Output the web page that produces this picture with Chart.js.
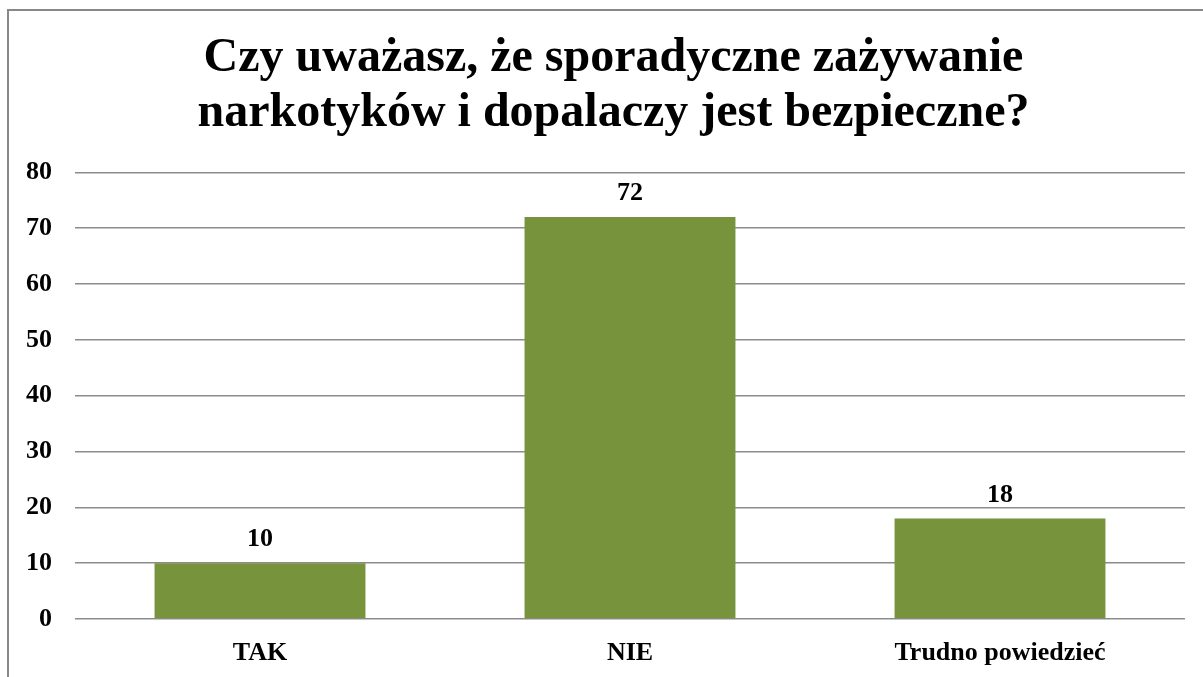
<!DOCTYPE html>
<html>
<head>
<meta charset="utf-8">
<script src="https://cdn.jsdelivr.net/npm/chart.js@4/dist/chart.umd.min.js"></script>
<style>
  html, body { margin: 0; padding: 0; background: #fff; overflow: hidden; }
  #frame { position: absolute; left: 7px; top: 9px; width: 1400px; height: 900px; border: 2px solid #888; box-sizing: border-box; }
  #wrap { position: absolute; left: 0; top: 0; width: 1203px; height: 677px; }
</style>
</head>
<body>
<div id="frame"></div>
<div id="wrap"><canvas id="c" width="1203" height="677"></canvas></div>
<script>
const titleLines = ["Czy uważasz, że sporadyczne zażywanie", "narkotyków i dopalaczy jest bezpieczne?"];
const categories = ["TAK", "NIE", "Trudno powiedzieć"];
const values = [10, 72, 18];
const yTicks = [0, 10, 20, 30, 40, 50, 60, 70, 80];

const FONT = "'Liberation Serif', 'Times New Roman', serif";

const valueLabels = {
  id: 'valueLabels',
  afterDatasetsDraw(chart) {
    const ctx = chart.ctx;
    const meta = chart.getDatasetMeta(0);
    ctx.save();
    ctx.font = "bold 26px " + FONT;
    ctx.fillStyle = "#000";
    ctx.textAlign = "center";
    ctx.textBaseline = "alphabetic";
    meta.data.forEach((bar, i) => {
      ctx.fillText(String(values[i]), bar.x, bar.y - 17);
    });
    ctx.restore();
  }
};

const titleShift = {
  id: 'titleShift',
  afterLayout(chart) {
    if (chart.titleBlock) { chart.titleBlock.left = 42; }
  }
};

new Chart(document.getElementById('c'), {
  type: 'bar',
  data: {
    labels: categories,
    datasets: [{
      data: values,
      backgroundColor: '#77933C',
      borderWidth: 0,
      barPercentage: 0.57,
      categoryPercentage: 1.0
    }]
  },
  options: {
    responsive: false,
    animation: false,
    layout: { padding: { left: 0, right: 18, top: 0, bottom: 0 } },
    plugins: {
      legend: { display: false },
      tooltip: { enabled: false },
      title: {
        display: true,
        text: titleLines,
        color: '#000',
        font: { family: FONT, size: 48, weight: 'bold', lineHeight: 1.15 },
        padding: { top: 31, bottom: 31 }
      }
    },
    scales: {
      x: {
        grid: { display: false, drawTicks: false },
        border: { display: false },
        ticks: {
          color: '#000',
          font: { family: FONT, size: 26, weight: 'bold' },
          padding: 19,
          maxRotation: 0
        },
        afterFit(scale) { scale.height = 58; }
      },
      y: {
        min: 0,
        max: 80,
        afterBuildTicks(scale) { scale.ticks = yTicks.map(v => ({ value: v })); },
        grid: { color: '#8c8c8c', lineWidth: 1.5, drawTicks: false },
        border: { display: false },
        ticks: {
          color: '#000',
          font: { family: FONT, size: 26, weight: 'bold' },
          padding: 23
        },
        afterFit(scale) { scale.width = 75; }
      }
    }
  },
  plugins: [valueLabels, titleShift]
});
</script>
</body>
</html>
